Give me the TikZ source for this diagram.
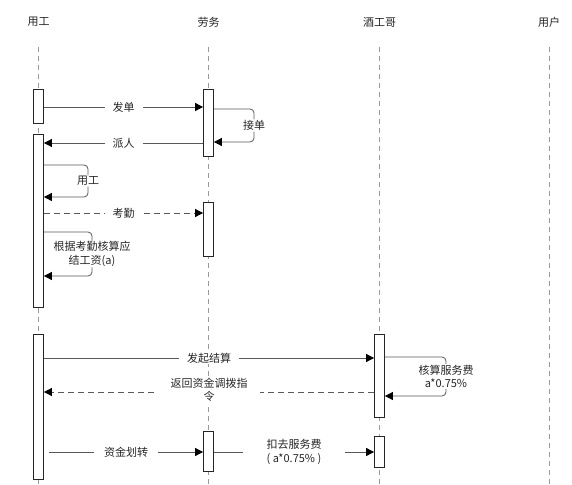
\documentclass[tikz,border=0pt]{standalone}
\usepackage{fontspec}
\newfontfamily\cjk{Noto Sans CJK SC}
\usetikzlibrary{arrows.meta}
\begin{document}
\begin{tikzpicture}[x=1pt,y=-1pt,
  txt/.style={font=\cjk\fontsize{11}{13.5}\selectfont, text=black!85},
  head/.style={txt},
  life/.style={draw=black!40, dash pattern=on 5pt off 4pt, line width=0.8pt},
  act/.style={draw=black!85, fill=white, minimum width=10pt, inner sep=0pt, line width=0.8pt},
  msg/.style={draw=black!65, line width=0.8pt, -{Triangle[length=8pt,width=8pt,color=black]}},
  ret/.style={msg, dash pattern=on 6pt off 4pt},
  loop/.style={msg, rounded corners=4pt},
  lbl/.style={txt, fill=white, inner xsep=8pt, inner ysep=1pt, align=center}]
\useasboundingbox (0,0) rectangle (572,484);
\fill[white] (0,0) rectangle (572,484);

% headers
\node[head] (hU) at (38.5,22) {用工};
\node[head] (hL) at (208.5,22) {劳务};
\node[head] (hJ) at (379.5,22) {酒工哥};
\node[head] (hY) at (549,22) {用户};

% lifelines
\coordinate (tU) at (38.5,47);  \coordinate (bU) at (38.5,484);
\coordinate (tL) at (208.5,47); \coordinate (bL) at (208.5,484);
\coordinate (tJ) at (379.5,47); \coordinate (bJ) at (379.5,484);
\coordinate (tY) at (549,47);   \coordinate (bY) at (549,484);
\draw[life] (tU) -- (bU);
\draw[life] (tL) -- (bL);
\draw[life] (tJ) -- (bJ);
\draw[life] (tY) -- (bY);

% activations
\node[act, minimum height=34pt]  (u1) at (38.5,106) {};
\node[act, minimum height=173pt] (u2) at (38.5,220.5) {};
\node[act, minimum height=145pt] (u3) at (38.5,406.5) {};
\node[act, minimum height=67pt]  (l1) at (208.5,122.5) {};
\node[act, minimum height=54pt]  (l2) at (208.5,229) {};
\node[act, minimum height=40pt]  (l3) at (208.5,451) {};
\node[act, minimum height=83pt]  (j1) at (379.5,375.5) {};
\node[act, minimum height=31pt]  (j2) at (379.5,451.5) {};

% messages
\draw[msg] (u1.east |- 0,107) -- node[lbl] {发单} (l1.west |- 0,107);
\draw[loop] (l1.east |- 0,109) -- (254,109) -- node[lbl, inner xsep=1pt] {接单} (254,142) -- (l1.east |- 0,142);
\draw[msg] (l1.west |- 0,143) -- node[lbl] {派人} (u2.east |- 0,143);
\draw[loop] (u2.east |- 0,165) -- (88,165) -- node[lbl, inner xsep=1pt] {用工} (88,197) -- (u2.east |- 0,197);
\draw[ret] (u2.east |- 0,213) -- node[lbl] {考勤} (l2.west |- 0,213);
\draw[loop] (u2.east |- 0,232) -- (92,232) -- node[lbl, inner xsep=1pt] {根据考勤核算应\\结工资(a)} (92,276) -- (u2.east |- 0,276);

\draw[msg] (u3.east |- 0,358) -- node[lbl] {发起结算} (j1.west |- 0,358);
\draw[loop] (j1.east |- 0,357) -- (446,357) -- node[lbl, inner xsep=1pt] {核算服务费\\a*0.75\%} (446,396) -- (j1.east |- 0,396);
\draw[ret] (j1.west |- 0,392) -- node[lbl, yshift=2pt, minimum width=102pt] {返回资金调拨指\\令} (u3.east |- 0,392);
\draw[msg] ([xshift=5pt]u3.east |- 0,452) -- node[lbl, inner xsep=10pt] {资金划转} (l3.west |- 0,452);
\draw[msg] (l3.east |- 0,452) -- node[lbl, minimum width=102pt] {扣去服务费\\( a*0.75\% )} (j2.west |- 0,452);
\end{tikzpicture}
\end{document}
